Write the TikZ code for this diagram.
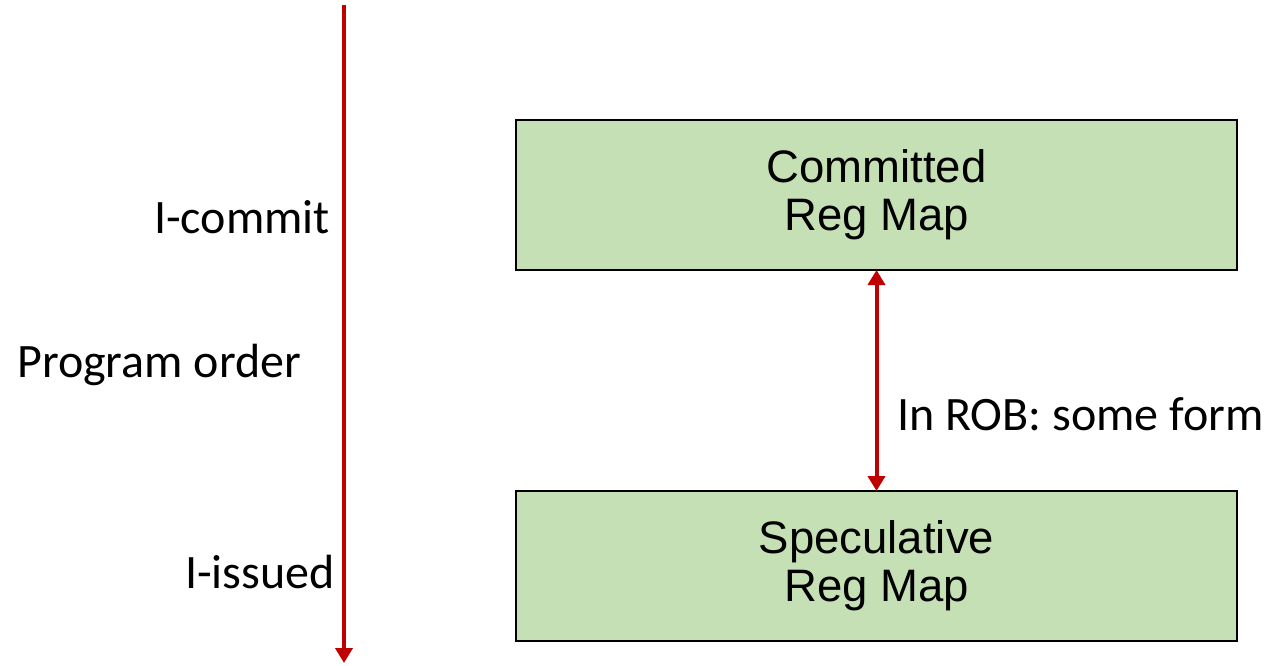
\documentclass[tikz,border=0pt]{standalone}
\usepackage{fontspec}
\setmainfont{Carlito}
\newfontfamily\arialfont{Liberation Sans}
\usetikzlibrary{arrows.meta}
\definecolor{boxgreen}{HTML}{C5E0B4}
\definecolor{arrowred}{HTML}{C00000}
\tikzset{
  mapbox/.style={draw=black, line width=2pt, fill=boxgreen, minimum width=721pt, minimum height=150pt,
    inner sep=0pt, align=center, font=\arialfont\fontsize{45.5}{48}\selectfont},
  redarrow/.style={draw=arrowred, line width=4pt, -{Triangle[length=15pt,width=17pt]}},
  reddouble/.style={draw=arrowred, line width=4pt, {Triangle[length=15pt,width=17pt]}-{Triangle[length=15pt,width=17pt]}},
  lbl/.style={inner sep=0pt, font=\fontsize{48}{52}\selectfont}
}
\begin{document}
\begin{tikzpicture}[x=1pt,y=-1pt]
\useasboundingbox (0,0) rectangle (1268,666);
\node[mapbox] (committed) at (876.5,195) {Committed\\Reg Map};
\node[mapbox] (spec) at (876.5,566) {Speculative\\Reg Map};
\coordinate (top) at (344,5);
\coordinate (bot) at (344,663);
\draw[redarrow] (top) -- (bot);
\draw[reddouble, shorten <=-1pt, shorten >=-1pt] (committed.south) -- (spec.north);
\node[lbl, anchor=base east] (icommit) at (330,233) {I-commit};
\node[lbl, anchor=base west] (porder) at (17,377) {Program order};
\node[lbl, anchor=base east] (iissued) at (335,588) {I-issued};
\node[lbl, anchor=base west] (inrob) at (897,430) {In ROB: some form};
\end{tikzpicture}
\end{document}
